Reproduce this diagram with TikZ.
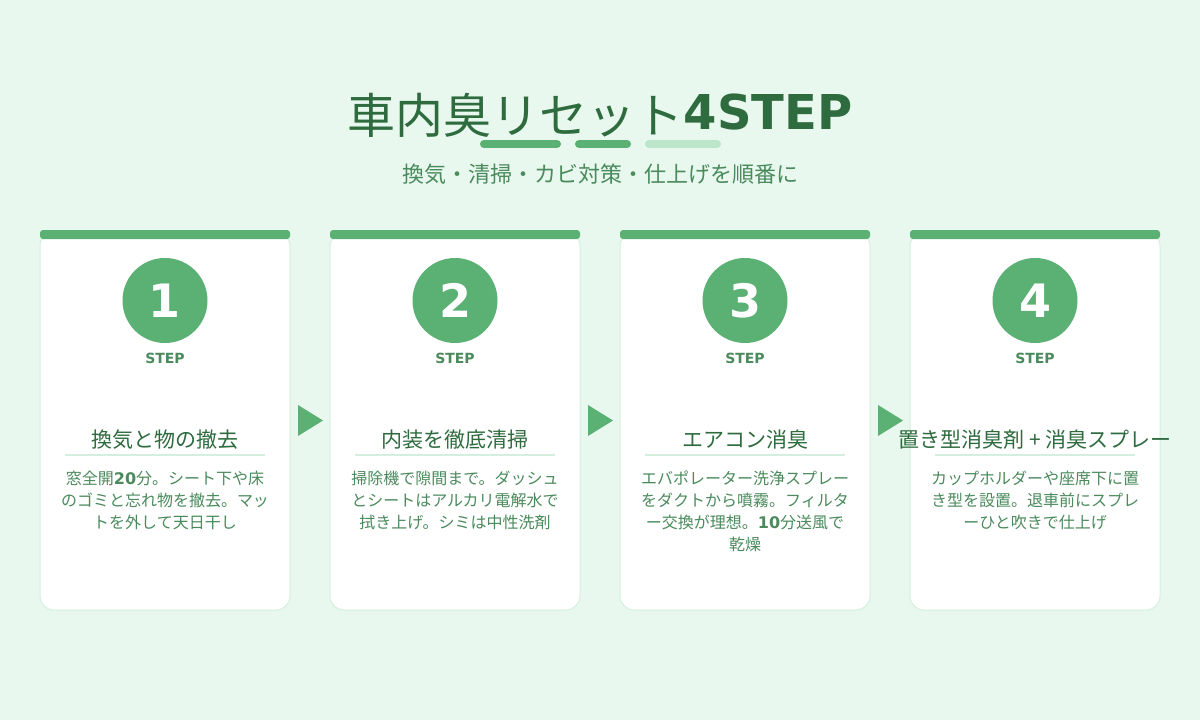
\documentclass[tikz,border=0pt]{standalone}
\usepackage{fontspec}
\setmainfont{Noto Sans CJK JP}
\newfontfamily\dv{DejaVu Sans}
\definecolor{bg}{HTML}{E8F8EE}
\definecolor{grn}{HTML}{5BB073}
\definecolor{lgrn}{HTML}{BDE5CA}
\definecolor{dark}{HTML}{2E6B3E}
\definecolor{body}{HTML}{4A8A5C}
\definecolor{bord}{HTML}{D4EFDF}
\tikzset{
  cardbox/.style={fill=white, draw=bord, line width=1pt, rounded corners=14pt},
  topbar/.style={fill=grn, rounded corners=3pt},
  numcirc/.style={circle, fill=grn, minimum size=85pt, inner sep=0pt, text=white, font=\dv\bfseries\fontsize{46}{50}\selectfont},
  steplbl/.style={text=body, font=\dv\bfseries\fontsize{14}{16}\selectfont, inner sep=0pt},
  headlbl/.style={text=dark, font=\fontsize{21}{24}\selectfont, inner sep=0pt},
  bodylbl/.style={text=body, font=\fontsize{16}{22}\selectfont, align=center, inner sep=0pt},
  sepline/.style={draw=bord, line width=2pt},
  arrowtri/.style={fill=grn},
  ubar/.style={line width=8pt, line cap=round}
}
\begin{document}
\begin{tikzpicture}[x=1pt,y=-1pt]
\useasboundingbox (0,0) rectangle (1200,720);
\fill[bg] (0,0) rectangle (1200,720);
% title
\node[anchor=base, inner sep=0pt, text=dark, font=\fontsize{48}{56}\selectfont] (title) at (600,129)
  {\raisebox{-4pt}{車内臭リセット}{\dv\bfseries 4STEP}};
\coordinate (b1a) at (484,144); \coordinate (b1b) at (557,144);
\coordinate (b2a) at (579,144); \coordinate (b2b) at (627,144);
\coordinate (b3a) at (649,144); \coordinate (b3b) at (717,144);
\draw[ubar, grn] (b1a) -- (b1b);
\draw[ubar, grn] (b2a) -- (b2b);
\draw[ubar, lgrn] (b3a) -- (b3b);
\node[text=body, font=\fontsize{22}{26}\selectfont, inner sep=0pt] (sub) at (600,174)
  {換気・清掃・カビ対策・仕上げを順番に};
% cards
\foreach \i/\cx in {1/165,2/455,3/745,4/1035}{
  \draw[cardbox] (\cx-125,232) rectangle (\cx+125,610);
  \fill[topbar] (\cx-125,230) rectangle (\cx+125,239);
  \node[numcirc] (c\i) at (\cx,300.5) {\raisebox{-2pt}{\i}};
  \node[steplbl] (s\i) at (\cx,358) {STEP};
  \draw[sepline] (\cx-100,455) -- (\cx+100,455);
}
\node[headlbl] (h1) at (165,440) {換気と物の撤去};
\node[headlbl] (h2) at (455,440) {内装を徹底清掃};
\node[headlbl] (h3) at (745,440) {エアコン消臭};
\node[headlbl] (h4) at (1035,440) {置き型消臭剤 + 消臭スプレー};
\node[bodylbl, anchor=north] (t1) at (165,471)
  {窓全開{\dv\bfseries 20}分。シート下や床\\のゴミと忘れ物を撤去。マッ\\トを外して天日干し};
\node[bodylbl, anchor=north] (t2) at (455,471)
  {掃除機で隙間まで。ダッシュ\\とシートはアルカリ電解水で\\拭き上げ。シミは中性洗剤};
\node[bodylbl, anchor=north] (t3) at (745,471)
  {エバポレーター洗浄スプレー\\をダクトから噴霧。フィルタ\\ー交換が理想。{\dv\bfseries 10}分送風で\\乾燥};
\node[bodylbl, anchor=north] (t4) at (1035,471)
  {カップホルダーや座席下に置\\き型を設置。退車前にスプレ\\ーひと吹きで仕上げ};
% arrows
\foreach \ax in {298,588,878}{
  \fill[arrowtri] (\ax,405) -- (\ax+25,420.5) -- (\ax,436) -- cycle;
}
\end{tikzpicture}
\end{document}
